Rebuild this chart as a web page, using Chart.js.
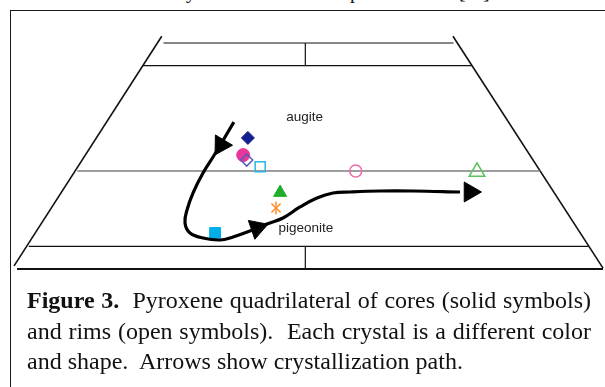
<!DOCTYPE html>
<html>
<head>
<meta charset="utf-8">
<script src="https://cdn.jsdelivr.net/npm/chart.js@4.4.1/dist/chart.umd.min.js"></script>
<style>
  html, body { margin: 0; padding: 0; background: #fff; }
  body { width: 605px; height: 387px; overflow: hidden; position: relative; }
  #frame { position: absolute; left: 10px; top: 10px; width: 700px; height: 500px;
           border-top: 1.6px solid #1a1a1a; border-left: 1.6px solid #1a1a1a; }
  #wrap { position: absolute; left: 0; top: 0; width: 605px; height: 387px; }
  .cap { position: absolute; left: 27px; font-family: "Liberation Serif", "Times New Roman", serif;
         font-size: 24px; line-height: 24px; white-space: nowrap; color: #111; }
  .just { width: 564px; text-align: justify; text-align-last: justify; }
  .cut { position: absolute; top: -19px; font-family: "Liberation Serif", serif;
         font-size: 20px; line-height: 20px; color: #111; }
</style>
</head>
<body>
<span class="cut" style="left:186px">y</span>
<span class="cut" style="left:350px">p</span>
<span class="cut" style="left:459px">[</span>
<span class="cut" style="left:483px">]</span>
<div id="frame"></div>
<div id="wrap"><canvas id="quadChart" width="605" height="387"></canvas></div>
<div class="cap just" style="top:288px"><b>Figure 3.</b>&nbsp; Pyroxene quadrilateral of cores (solid symbols)</div>
<div class="cap just" style="top:319px">and rims (open symbols).&nbsp; Each crystal is a different color</div>
<div class="cap" style="top:349px">and shape.&nbsp; Arrows show crystallization path.</div>

<script>
// quadrilateral outline (x: position along En-Fs, y: Wo)
const quadLevels = [0, 5, 21.7, 45, 50];
const quadLeft = [0, 2, 10.3, 21.5, 25];
const quadRight = [100, 97.5, 89.3, 77.6, 74.5];
const leftSlant = [[-0.5, 0.7], [24.7, 51.5]];
const rightSlant = [[100, 0.2], [74.4, 51.5]];
const tickX = 49.2;
const tickSpans = [[0, 5], [45, 50]];

// crystals: cores (solid) and rims (open)
const crystals = ['diamond', 'circle', 'square', 'triangle', 'asterisk'];
const coreX = [39.4, 38.6, 33.8, 44.9, 44.2];
const coreY = [29.0, 25.2, 8.0, 16.9, 13.5];
const rimX = [39.2, 57.8, 41.5, 78.5, null];
const rimY = [24.1, 21.7, 22.6, 21.5, null];

// crystallization path and arrowheads
const pathX = [37.0, 35.0, 33.45, 31.74, 30.03, 29.01, 28.67, 29.52, 31.74, 34.64, 36.86, 39.76,
               42.66, 45.39, 48.29, 51.19, 53.92, 56.83, 61.95, 67.58, 75.6];
const pathY = [32.5, 28.1, 24.78, 21.24, 16.81, 13.05, 10.18, 7.96, 6.86, 6.42, 7.08, 8.41,
               9.96, 11.28, 13.72, 15.71, 16.81, 17.04, 17.26, 17.26, 17.04];
const arrowX = [34.81, 40.96, 77.3];
const arrowY = [27.43, 9.07, 17.04];
const arrowDir = [211, 71, 90];

// mineral labels
const labelText = ['augite', 'pigeonite'];
const labelX = [49.1, 49.3];
const labelY = [33.6, 9.07];

const markerStyle = {
  diamond:  { shape: 'rectRot',  core: '#13208f', rim: '#5a5ab8', rc: 6.5, rr: 6 },
  circle:   { shape: 'circle',   core: '#e8379b', rim: '#f06aa8', rc: 6.5, rr: 6 },
  square:   { shape: 'rect',     core: '#00aee8', rim: '#2ab6e8', rc: 7.6, rr: 7.1 },
  triangle: { shape: 'triangle', core: '#1fae2a', rim: '#5cc25c', rc: 7.5, rr: 9 },
  asterisk: { shape: 'crossRot', core: '#ff8a1e', rim: '#ff8a1e', rc: 6.5, rr: 6 }
};

const datasets = [];

function addLine(points, color, width) {
  datasets.push({
    type: 'line', data: points.map(p => ({ x: p[0], y: p[1] })),
    borderColor: color, borderWidth: width, pointRadius: 0, fill: false, clip: false, order: 5
  });
}

quadLevels.forEach((wo, i) => {
  const isGray = i === 2;
  addLine([[quadLeft[i], wo], [quadRight[i], wo]], isGray ? '#7c7c7c' : '#111',
    i === 0 ? 1.8 : (isGray ? 1.5 : 1.2));
});
addLine(leftSlant, '#111', 1.6);
addLine(rightSlant, '#111', 1.6);
tickSpans.forEach(s => addLine([[tickX, s[0]], [tickX, s[1]]], '#111', 1.2));

// path
datasets.push({
  type: 'line', data: pathX.map((x, i) => ({ x: x, y: pathY[i] })),
  borderColor: '#000', borderWidth: 3.2, pointRadius: 0, tension: 0.4, fill: false, clip: false, order: 2
});
datasets.push({
  type: 'scatter', data: arrowX.map((x, i) => ({ x: x, y: arrowY[i] })),
  pointStyle: 'triangle', rotation: arrowDir, pointRadius: 11.5,
  backgroundColor: '#000', borderColor: '#000', borderWidth: 1, clip: false, order: 1
});

crystals.forEach((name, i) => {
  const st = markerStyle[name];
  datasets.push({
    type: 'scatter', label: name + ' core', data: [{ x: coreX[i], y: coreY[i] }],
    pointStyle: st.shape, pointRadius: st.rc,
    backgroundColor: st.core, borderColor: st.core, borderWidth: name === 'asterisk' ? 1.4 : 1,
    clip: false, order: 3
  });
  if (name === 'asterisk') {
    datasets.push({
      type: 'scatter', data: [{ x: coreX[i], y: coreY[i] }],
      pointStyle: 'line', rotation: 90, pointRadius: st.rc,
      borderColor: st.core, borderWidth: 1.4, clip: false, order: 3
    });
  }
  if (rimX[i] !== null) {
    datasets.push({
      type: 'scatter', label: name + ' rim', data: [{ x: rimX[i], y: rimY[i] }],
      pointStyle: st.shape, pointRadius: st.rr,
      backgroundColor: 'rgba(255,255,255,0)', borderColor: st.rim, borderWidth: 1.5,
      clip: false, order: 3
    });
  }
});

const labelPlugin = {
  id: 'mineralLabels',
  afterDatasetsDraw(chart) {
    const ctx = chart.ctx;
    ctx.save();
    ctx.font = '13.5px "Liberation Sans", Arial, sans-serif';
    ctx.fillStyle = '#222';
    ctx.textAlign = 'center';
    ctx.textBaseline = 'middle';
    labelText.forEach((t, i) => {
      ctx.fillText(t, chart.scales.x.getPixelForValue(labelX[i]), chart.scales.y.getPixelForValue(labelY[i]));
    });
    ctx.restore();
  }
};

const ctx = document.getElementById('quadChart').getContext('2d');
const chart = new Chart(ctx, {
  data: { datasets: datasets },
  options: {
    responsive: false,
    animation: false,
    layout: { autoPadding: false, padding: { left: 17, right: 2, top: 43, bottom: 118 } },
    scales: {
      x: { type: 'linear', min: 0, max: 100, display: false },
      y: { type: 'linear', min: 0, max: 50, display: false }
    },
    plugins: { legend: { display: false }, tooltip: { enabled: false } }
  },
  plugins: [labelPlugin]
});
</script>
</body>
</html>
